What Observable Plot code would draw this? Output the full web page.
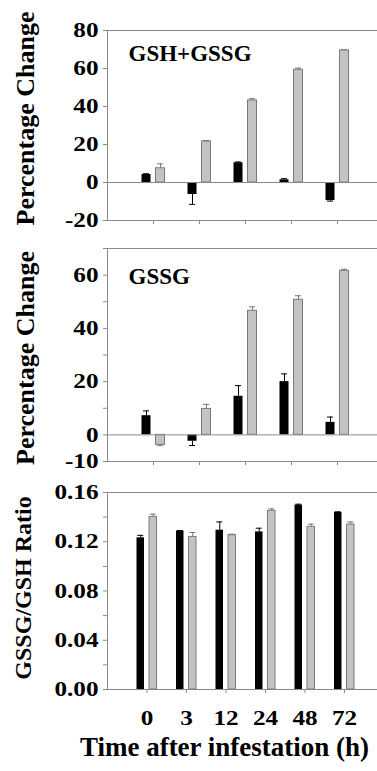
<!DOCTYPE html>
<html>
<head>
<meta charset="utf-8">
<script src="https://cdn.jsdelivr.net/npm/d3@7"></script>
<script src="https://cdn.jsdelivr.net/npm/@observablehq/plot@0.6"></script>
<style>
  html, body { margin: 0; padding: 0; background: #fff; }
  #chart { position: relative; width: 377px; height: 771px; overflow: hidden; background: #fff; }
  #chart svg { position: absolute; left: 0; display: block; overflow: visible; }
  #chart svg, #chart svg text { font-family: 'Liberation Serif', 'Times New Roman', Times, serif !important; font-weight: bold; }
</style>
</head>
<body>
<div id="chart"></div>
<script>
// ---------- data ----------
const timeLabels = ["0", "3", "12", "24", "48", "72"];
const changeGroups = ["3", "12", "24", "48", "72"];

// Panel 1: GSH+GSSG percentage change
const totalBlack = [4.2, -6.3, 10.4, 1.4, -9.5];
const totalBlackErr = [0.4, 5.2, 0.4, 0.6, 0.3];
const totalGray = [7.5, 21.6, 43.2, 59.3, 69.5];
const totalGrayErr = [2.3, 0.5, 0.9, 0.9, 0.4];
const totalTicks = [-20, 0, 20, 40, 60, 80];
const totalTickLabels = [-20, 0, 20, 40, 60, 80];

// Panel 2: GSSG percentage change
const gssgBlack = [7.2, -2.4, 14.5, 20.0, 4.7];
const gssgBlackErr = [1.8, 1.6, 4.0, 2.9, 2.0];
const gssgGray = [-3.75, 9.75, 46.6, 50.75, 61.6];
const gssgGrayErr = [0.3, 1.7, 1.5, 1.5, 0.6];
const gssgTicks = [-10, 0, 10, 20, 30, 40, 50, 60, 70];
const gssgTickLabels = [-10, 0, 20, 40, 60];

// Panel 3: GSSG/GSH ratio
const ratioBlack = [0.1232, 0.1286, 0.1294, 0.1280, 0.1497, 0.1438];
const ratioBlackErr = [0.0020, 0.0005, 0.0067, 0.0030, 0.0008, 0.0005];
const ratioGray = [0.1402, 0.1239, 0.1253, 0.1451, 0.1321, 0.1340];
const ratioGrayErr = [0.0022, 0.0036, 0.0008, 0.0016, 0.0022, 0.0021];
const ratioTicks = [0, 0.02, 0.04, 0.06, 0.08, 0.10, 0.12, 0.14, 0.16];
const ratioTickLabels = [0, 0.04, 0.08, 0.12, 0.16];

// ---------- styling ----------
const W = 377, ML = 107;
const AX = "#8a8a8a";
const FONT = "'Liberation Serif', 'Times New Roman', Times, serif";
const TICK_STRETCH = 1.2;
const chart = document.getElementById("chart");

function stretchText(svg, selector, s) {
  svg.querySelectorAll(selector).forEach(t => {
    const tr = t.getAttribute("transform");
    if (tr) {
      t.setAttribute("transform", tr + ` scale(${s},1)`);
    } else {
      const x = +(t.getAttribute("x") || 0), y = +(t.getAttribute("y") || 0);
      t.removeAttribute("x"); t.removeAttribute("y");
      t.setAttribute("transform", `translate(${x},${y}) scale(${s},1)`);
    }
  });
}

function panel(o) {
  const u = 1 / o.step;                 // data units per pixel
  const xMax = (W - ML) / o.step - 1;
  const rows = [];
  o.cats.forEach((c, i) => {
    rows.push({i, s: "b", v: o.black[i], e: o.blackErr[i]});
    rows.push({i, s: "g", v: o.gray[i], e: o.grayErr[i]});
  });
  const blackRows = rows.filter(d => d.s === "b");
  const grayRows = rows.filter(d => d.s === "g");
  const cx = d => d.i + (d.s === "b" ? -o.barOff : o.barOff) * u;
  const end = d => d.v + (d.v < 0 ? -d.e : d.e);
  const hw = o.barW / 2 * u;
  const cap = 3 * u;

  const marks = [
    Plot.ruleY([o.yDomain[1]], {stroke: AX}),
    Plot.ruleY([o.yDomain[0]], {stroke: AX}),
    Plot.axisY({
      ticks: o.ticks, tickSize: 4, tickPadding: 5,
      tickFormat: d => o.labels.includes(d) ? o.fmt(d) : "",
      stroke: AX, fill: "#000", fontSize: 21, fontWeight: "bold", fontFamily: FONT, label: null
    }),
    Plot.axisX({
      ticks: d3.range(o.cats.length), tickSize: 4, tickPadding: o.xPad || 3,
      tickFormat: o.xLabels ? (i => o.xLabels[i]) : (() => ""),
      stroke: AX, fill: "#000", fontSize: 21, fontWeight: "bold", fontFamily: FONT, label: null
    }),
    // error bars
    Plot.ruleX(blackRows, {x: cx, y1: d => d.v, y2: end, stroke: "#000"}),
    Plot.ruleY(blackRows, {y: end, x1: d => cx(d) - cap, x2: d => cx(d) + cap, stroke: "#000"}),
    Plot.ruleX(grayRows, {x: cx, y1: d => d.v, y2: end, stroke: "#777"}),
    Plot.ruleY(grayRows, {y: end, x1: d => cx(d) - cap, x2: d => cx(d) + cap, stroke: "#777"}),
    // bars
    Plot.rect(blackRows, {x1: d => cx(d) - hw, x2: d => cx(d) + hw, y1: () => 0, y2: d => d.v, fill: "#000"}),
    Plot.rect(grayRows, {x1: d => cx(d) - hw, x2: d => cx(d) + hw, y1: () => 0, y2: d => d.v, fill: "#c3c3c3", stroke: "#7a7a7a", strokeWidth: 1}),
  ];
  if (o.yDomain[0] < 0) marks.push(Plot.ruleY([0], {stroke: AX}));
  marks.push(Plot.ruleX([-1], {stroke: AX}));
  // y-axis title
  marks.push(Plot.text([o.yTitle], {
    frameAnchor: "left", rotate: -90, dx: o.titleDx, dy: o.titleDy, textAnchor: "middle",
    fontSize: o.titleSize, fontWeight: "bold", fontFamily: FONT, fill: "#000", lineAnchor: "middle"
  }));
  if (o.panelLabel) {
    marks.push(Plot.text([o.panelLabel], {
      frameAnchor: "top-left", dx: 21, dy: o.labelDy, textAnchor: "start",
      lineAnchor: "bottom", fontSize: 23, fontWeight: "bold", fontFamily: FONT, fill: "#000"
    }));
  }
  if (o.xTitle) {
    marks.push(Plot.text([o.xTitle], {
      frameAnchor: "bottom", dx: -18, dy: 58, textAnchor: "middle", lineAnchor: "middle",
      fontSize: 27, fontWeight: "bold", fontFamily: FONT, fill: "#000"
    }));
  }

  const svg = Plot.plot({
    width: W, height: o.height,
    marginLeft: ML, marginRight: 0, marginTop: o.marginTop, marginBottom: o.marginBottom,
    x: {type: "linear", domain: [-1, xMax]},
    y: {type: "linear", domain: o.yDomain},
    style: {fontFamily: FONT, fontWeight: "bold", background: "transparent", color: "#000", overflow: "visible"},
    marks
  });
  stretchText(svg, 'g[aria-label$="tick label"] text', TICK_STRETCH);
  svg.style.top = o.top + "px";
  chart.appendChild(svg);
}

panel({
  cats: changeGroups, black: totalBlack, blackErr: totalBlackErr, gray: totalGray, grayErr: totalGrayErr,
  yDomain: [-20, 80], ticks: totalTicks, labels: totalTickLabels, fmt: d => String(d),
  step: 46, barW: 9, barOff: 7,
  top: 0, height: 235, marginTop: 30, marginBottom: 15,
  yTitle: "Percentage Change", titleSize: 26, titleDx: -82, titleDy: -7,
  panelLabel: "GSH+GSSG", labelDy: 30
});

panel({
  cats: changeGroups, black: gssgBlack, blackErr: gssgBlackErr, gray: gssgGray, grayErr: gssgGrayErr,
  yDomain: [-10, 70], ticks: gssgTicks, labels: gssgTickLabels, fmt: d => String(d),
  step: 46, barW: 9, barOff: 7,
  top: 235, height: 235, marginTop: 13, marginBottom: 9,
  yTitle: "Percentage Change", titleSize: 26, titleDx: -82, titleDy: 3,
  panelLabel: "GSSG", labelDy: 35
});

panel({
  cats: timeLabels, black: ratioBlack, blackErr: ratioBlackErr, gray: ratioGray, grayErr: ratioGrayErr,
  yDomain: [0, 0.16], ticks: ratioTicks, labels: ratioTickLabels, fmt: d3.format(".2f"),
  step: 39.5, barW: 7.5, barOff: 6.25,
  top: 470, height: 301, marginTop: 22, marginBottom: 82,
  xLabels: timeLabels, xPad: 17,
  yTitle: "GSSG/GSH Ratio", titleSize: 24, titleDx: -84, titleDy: -3,
  xTitle: "Time after infestation (h)"
});
</script>
</body>
</html>
